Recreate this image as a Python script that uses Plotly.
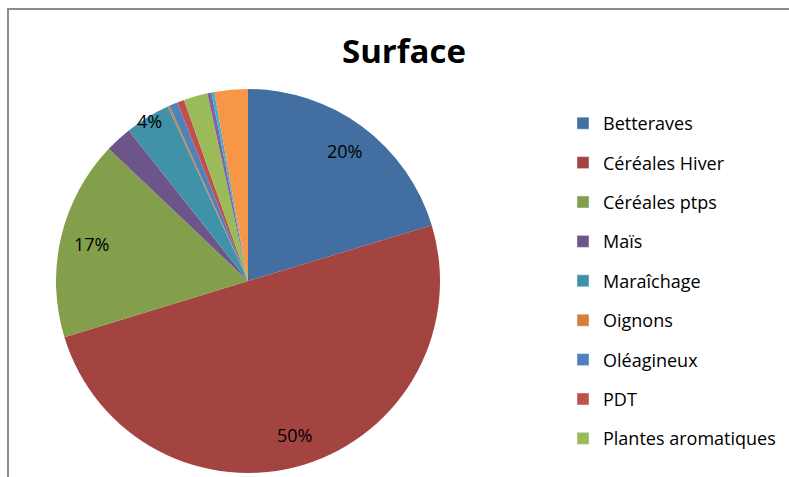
import math
import plotly.graph_objects as go

# ---- data ----
categories = ["Betteraves", "Céréales Hiver", "Céréales ptps", "Maïs", "Maraîchage",
              "Oignons", "Oléagineux", "PDT", "Plantes aromatiques",
              "Autre 1", "Autre 2", "Autre 3"]
values = [20.3, 49.9, 16.8, 2.25, 3.8, 0.15, 0.7, 0.6, 2.0, 0.35, 0.25, 2.8]
legend_categories = categories[:9]  # only these are visible in the (cropped) legend
colors = ["#436EA1", "#A34441", "#849F4C", "#6D558A", "#4092A8", "#D2803C",
          "#4F81BD", "#C0504D", "#9BBB59", "#8064A2", "#4BACC6", "#F79646"]
title_text = "Surface"

# ---- geometry ----
W, H = 789, 477
CX, CY, R = 248, 281, 192  # pie centre / radius in px

fig = go.Figure()
fig.add_trace(go.Pie(
    labels=categories, values=values, sort=False, direction="clockwise", rotation=0,
    marker=dict(colors=colors, line=dict(width=0)),
    textinfo="none", showlegend=False, hoverinfo="label+percent",
    domain=dict(x=[(CX - R) / W, (CX + R) / W], y=[1 - (CY + R) / H, 1 - (CY - R) / H]),
))

# legend entries (dummy traces so only the visible nine appear)
for name, col in zip(legend_categories, colors):
    fig.add_trace(go.Bar(x=[None], y=[None], name=name, marker_color=col,
                         legendgroup=name, showlegend=True))

# percentage labels, placed from the data
total = sum(values)
cum = 0.0
for v in values:
    share = v / total
    mid = (cum + share / 2) * 2 * math.pi
    cum += share
    if share < 0.03:
        continue
    rf = 0.84 if share >= 0.10 else 0.98
    px = CX + rf * R * math.sin(mid)
    py = CY - rf * R * math.cos(mid)
    fig.add_annotation(x=px / W, y=1 - py / H, xref="paper", yref="paper",
                       xanchor="center", yanchor="middle",
                       text=f"{round(share * 100)}%", showarrow=False,
                       font=dict(family="Open Sans", size=18, color="#000000"))

# chart border (cropped)
fig.add_shape(type="rect", xref="paper", yref="paper",
              x0=8 / W, x1=1.2, y0=1 - 9 / H, y1=-0.2,
              line=dict(color="#8C8C8C", width=2), fillcolor="rgba(0,0,0,0)")

fig.update_layout(
    width=W, height=H,
    margin=dict(l=0, r=0, t=0, b=0),
    paper_bgcolor="white", plot_bgcolor="white",
    title=dict(text=f"<b>{title_text}</b>", x=404 / W, xanchor="center",
               y=1 - 51 / H, yanchor="middle",
               font=dict(family="Open Sans", size=33, color="#000000")),
    xaxis=dict(visible=False), yaxis=dict(visible=False),
    showlegend=True,
    legend=dict(x=563 / W, y=1 - 105 / H, xanchor="left", yanchor="top",
                font=dict(family="Open Sans", size=18, color="#000000"),
                tracegroupgap=13, bgcolor="rgba(0,0,0,0)"),
)

fig.write_html("out.html", config={"displayModeBar": False},
               post_script="document.body.style.margin='0';")
